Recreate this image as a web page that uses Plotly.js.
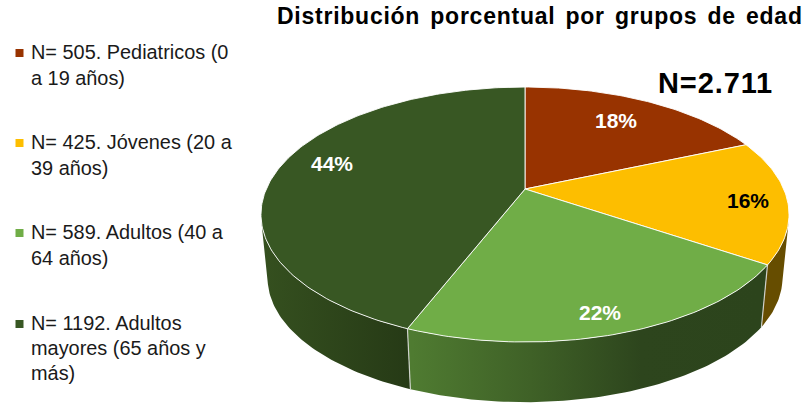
<!DOCTYPE html>
<html><head><meta charset="utf-8">
<script src="https://cdn.plot.ly/plotly-3.0.1.min.js"></script>
<style>html,body{margin:0;padding:0;background:#fff}#c{width:805px;height:404px}</style>
</head><body><div id="c"></div>
<script>
var counts = [505, 425, 589, 1192];
var percentLabels = ['18%', '16%', '22%', '44%'];
var groupLines = [
  ['N= 505. Pediatricos (0', 'a 19 años)'],
  ['N= 425. Jóvenes (20 a', '39 años)'],
  ['N= 589. Adultos (40 a', '64 años)'],
  ['N= 1192. Adultos', 'mayores (65 años y', 'más)']
];
var colors = ['#983300', '#FDBE00', '#70AD47', '#385723'];
var titleText = 'Distribución porcentual por grupos de edad';
var totalText = 'N=2.711';

// view geometry (pixel axes)
var W = 805, H = 404;
var cx = 525, cy = 189, A = 258.7, B = 122.4, k = 0.2, drop = 64, shrink = 0.975;
var FONT = '"Liberation Sans", Arial, sans-serif';
var wallGrad = [
  {start: 262, stop: 410, scale: [[0, '#35501f'], [1, '#263a16']]},
  {start: 412, stop: 760, scale: [[0, '#4f7b31'], [0.34, '#3f6127'], [0.66, '#2d451d'], [1, '#2c441c']]}
];
var wallSolid = ['#5c2000', '#664d00'];
var labelPos = [[616, 120.5], [748, 200.5], [600, 312], [332, 163]];
var legendY = [[52, 78], [142, 168], [232, 258], [323, 348, 373]];

function topPt(t) {
  var u = Math.sin(t), v = Math.cos(t), d = 1 + k * v;
  return [cx + A * u / d, cy - B * v / d];
}
function botPt(t) {
  var p = topPt(t);
  return [cx + shrink * (p[0] - cx), cy + drop + shrink * (p[1] - cy)];
}
function arc(fn, a, b) {
  var n = Math.max(2, Math.ceil(Math.abs(b - a) / (Math.PI / 180))), out = [];
  for (var i = 0; i <= n; i++) out.push(fn(a + (b - a) * i / n));
  return out;
}
// part of an arc whose wall faces the viewer (the wall turns away past the silhouette)
function facing(t) {
  var e = 1e-3, p = topPt(t), q = topPt(t + e), g = botPt(t);
  var tx = q[0] - p[0], ty = q[1] - p[1], gx = g[0] - p[0], gy = g[1] - p[1];
  return tx * gy - ty * gx < 0;
}
function visibleRange(a, b) {
  var lo = null, hi = null, n = 720;
  for (var i = 0; i <= n; i++) {
    var t = a + (b - a) * i / n;
    if (facing(t)) { if (lo === null) lo = t; hi = t; }
  }
  return lo === null ? null : [lo, hi];
}
var total = counts.reduce(function (s, c) { return s + c; }, 0);
var edges = [0];
counts.forEach(function (c, i) { edges.push(edges[i] + c / total * 2 * Math.PI); });

var traces = [];
function xs(p) { return p.map(function (q) { return q[0]; }); }
function ys(p) { return p.map(function (q) { return q[1]; }); }

// side walls
[0, 1, 3, 2].forEach(function (i) {
  var r = visibleRange(edges[i], edges[i + 1]);
  if (!r) return;
  var pts = arc(topPt, r[0], r[1]).concat(arc(botPt, r[1], r[0]));
  pts.push(pts[0]);
  var tr = {type: 'scatter', mode: 'lines', x: xs(pts), y: ys(pts), fill: 'toself',
    line: {width: 0}, hoverinfo: 'skip', showlegend: false};
  if (i < 2) tr.fillcolor = wallSolid[i];
  else {
    var g = wallGrad[i === 3 ? 0 : 1];
    tr.fillgradient = {type: 'horizontal', start: g.start, stop: g.stop, colorscale: g.scale};
  }
  traces.push(tr);
});
// visible wall seams
[edges[2], edges[3]].forEach(function (t) {
  var a = topPt(t), b = botPt(t);
  traces.push({type: 'scatter', mode: 'lines', x: [a[0], b[0]], y: [a[1], b[1]],
    line: {color: 'rgba(225,225,225,0.85)', width: 1.2}, hoverinfo: 'skip', showlegend: false});
});
// top faces
counts.forEach(function (c, i) {
  var pts = [[cx, cy]].concat(arc(topPt, edges[i], edges[i + 1]));
  pts.push([cx, cy]);
  traces.push({type: 'scatter', mode: 'lines', x: xs(pts), y: ys(pts), fill: 'toself',
    fillcolor: colors[i], line: {color: 'rgba(255,255,255,0.9)', width: 1},
    hoverinfo: 'text', text: percentLabels[i], showlegend: false});
});
// legend swatches
traces.push({type: 'scatter', mode: 'markers',
  x: colors.map(function () { return 19.5; }),
  y: legendY.map(function (l) { return l[0] + 1; }),
  marker: {symbol: 'square', size: 8, color: colors, line: {width: 0}},
  hoverinfo: 'skip', showlegend: false});

var ann = [];
percentLabels.forEach(function (t, i) {
  ann.push({x: labelPos[i][0], y: labelPos[i][1], xref: 'x', yref: 'y', text: '<b>' + t + '</b>',
    showarrow: false, xanchor: 'center', yanchor: 'middle',
    font: {family: FONT, size: 21, color: i === 1 ? '#000000' : '#ffffff'}});
});
groupLines.forEach(function (lines, i) {
  lines.forEach(function (t, j) {
    ann.push({x: 31, y: legendY[i][j], xref: 'x', yref: 'y', text: t, showarrow: false,
      xanchor: 'left', yanchor: 'middle', borderpad: 0, xshift: -1,
      font: {family: FONT, size: 19.9, color: '#1a1a1a'}});
  });
});
ann.push({x: 715, y: 83, xref: 'x', yref: 'y',
  text: '<b><span style="letter-spacing:0.9px">' + totalText + '</span></b>', showarrow: false,
  xanchor: 'center', yanchor: 'middle', font: {family: FONT, size: 29, color: '#000000'}});

var layout = {
  width: W, height: H, margin: {l: 0, r: 0, t: 0, b: 0},
  paper_bgcolor: '#ffffff', plot_bgcolor: '#ffffff', showlegend: false, hovermode: 'closest',
  title: {text: '<b><span style="letter-spacing:0.75px;word-spacing:3px">' + titleText + '</span></b>',
    x: 277 / W, xanchor: 'left', y: 1 - 15.5 / H, yanchor: 'middle',
    font: {family: FONT, size: 23, color: '#000000'}},
  xaxis: {visible: false, range: [0, W], fixedrange: true},
  yaxis: {visible: false, range: [H, 0], fixedrange: true},
  annotations: ann
};
Plotly.newPlot('c', traces, layout, {displayModeBar: false, staticPlot: false});
</script></body></html>
